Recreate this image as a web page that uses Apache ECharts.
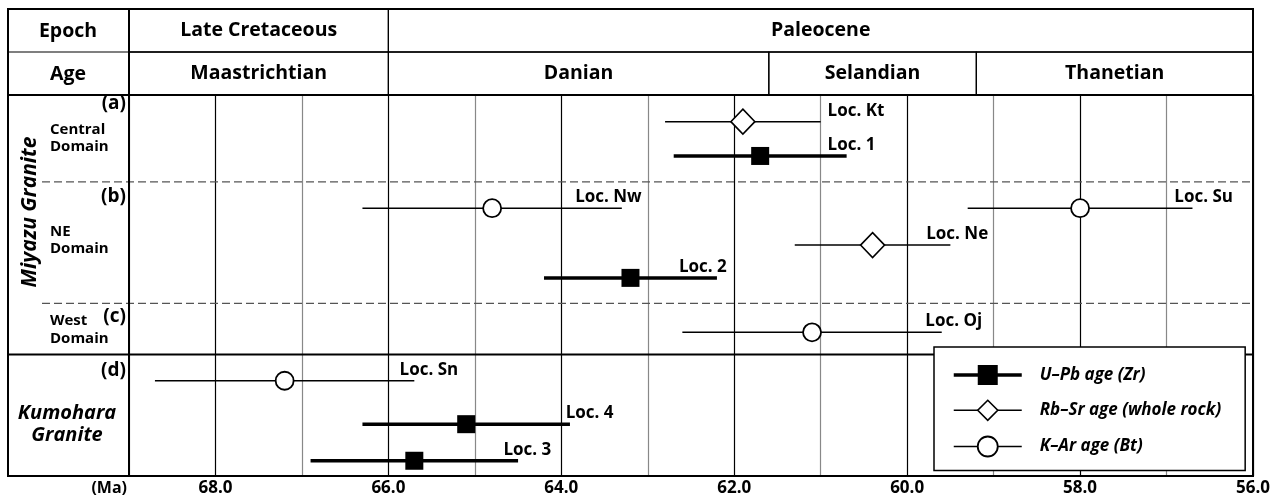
<!DOCTYPE html>
<html><head><meta charset="utf-8">
<script src="https://cdn.jsdelivr.net/npm/echarts@6/dist/echarts.min.js"></script>
<style>html,body{margin:0;padding:0;background:#fff}#c{width:1279px;height:499px}</style>
</head><body><div id="c"></div>
<script>
// ---- data ----
const epochNames = ['Late Cretaceous', 'Paleocene'];
const epochStart = [69, 66];
const epochEnd = [66, 56];
const stageNames = ['Maastrichtian', 'Danian', 'Selandian', 'Thanetian'];
const stageStart = [69, 66, 61.6, 59.2];
const stageEnd = [66, 61.6, 59.2, 56];

const methodNames = ['U–Pb age (Zr)', 'Rb–Sr age (whole rock)', 'K–Ar age (Bt)'];
const locNames = ['Loc. Kt', 'Loc. 1', 'Loc. Nw', 'Loc. Su', 'Loc. Ne', 'Loc. 2', 'Loc. Oj', 'Loc. Sn', 'Loc. 4', 'Loc. 3'];
const locMethod = [1, 0, 2, 2, 1, 0, 2, 2, 0, 0];
const locAge = [61.9, 61.7, 64.8, 58.0, 60.4, 63.2, 61.1, 67.2, 65.1, 65.7];
const locOld = [62.8, 62.7, 66.3, 59.3, 61.3, 64.2, 62.6, 68.7, 66.3, 66.9];
const locYoung = [61.0, 60.7, 63.3, 56.7, 59.5, 62.2, 59.6, 65.7, 63.9, 64.5];
const locLane = [0.70, 1.60, 2.97, 2.97, 3.94, 4.80, 6.23, 7.50, 8.64, 9.60];
const labelAt = [60.92, 60.92, 63.84, 56.91, 59.78, 62.64, 59.79, 65.87, 63.95, 64.67];
const laneBreaks = [2.28, 5.47, 6.81];
const breakDashed = [true, true, false];
const axisMin = 56, axisMax = 69, axisStep = 1;

// ---- styles ----
const FONT = '"Open Sans"';
const mStyle = [
  {symbol: 'rect', size: [18, 18], color: '#000', border: 0, bar: 3.5},
  {symbol: 'diamond', size: [24, 25], color: '#fff', border: 1.6, bar: 1.5},
  {symbol: 'circle', size: 18, color: '#fff', border: 1.8, bar: 1.5}
];

const chart = echarts.init(document.getElementById('c'), null, {renderer: 'canvas'});

const headerData = [];
epochNames.forEach((n, i) => headerData.push([epochStart[i], epochEnd[i], 0]));
stageNames.forEach((n, i) => headerData.push([stageStart[i], stageEnd[i], 1]));
const headerNames = epochNames.concat(stageNames);

const series = [];
// header cells
series.push({
  type: 'custom', xAxisIndex: 1, yAxisIndex: 1, silent: true, z: 1,
  data: headerData,
  renderItem: function (params, api) {
    const a = api.coord([api.value(0), api.value(2)]);
    const b = api.coord([api.value(1), api.value(2) + 1]);
    return {type: 'group', children: [
      {type: 'rect', shape: {x: a[0], y: a[1], width: b[0] - a[0], height: b[1] - a[1]},
       style: {fill: 'none', stroke: '#000', lineWidth: 1.2}},
      {type: 'text', style: {text: headerNames[params.dataIndex], x: (a[0] + b[0]) / 2, y: (a[1] + b[1]) / 2,
       align: 'center', verticalAlign: 'middle', font: 'bold 19.5px ' + FONT, fill: '#000'}}
    ]};
  }
});
// lane dividers
series.push({
  type: 'custom', silent: true, z: 1, clip: false,
  data: laneBreaks.map(v => [axisMax, v]),
  renderItem: function (params, api) {
    const p = api.coord([api.value(0), api.value(1)]);
    const right = params.coordSys.x + params.coordSys.width;
    const dashed = breakDashed[params.dataIndex];
    return {type: 'line', shape: {x1: dashed ? 42 : 8, y1: p[1], x2: right, y2: p[1]},
      style: dashed ? {stroke: '#555', lineWidth: 1.2, lineDash: [8, 4]} : {stroke: '#000', lineWidth: 2}};
  }
});
// error bars + markers per method
methodNames.forEach((name, m) => {
  const idx = locNames.map((_, i) => i).filter(i => locMethod[i] === m);
  series.push({
    type: 'custom', silent: true, z: 2,
    data: idx.map(i => [locOld[i], locYoung[i], locLane[i]]),
    encode: {x: [0, 1], y: 2},
    renderItem: function (params, api) {
      const a = api.coord([api.value(0), api.value(2)]);
      const b = api.coord([api.value(1), api.value(2)]);
      return {type: 'line', shape: {x1: a[0], y1: a[1], x2: b[0], y2: b[1]},
        style: {stroke: '#000', lineWidth: mStyle[m].bar}};
    }
  });
  series.push({
    type: 'line', name: name, z: 3, silent: true,
    data: idx.map(i => [locAge[i], locLane[i]]),
    symbol: mStyle[m].symbol, symbolSize: mStyle[m].size, showSymbol: true,
    lineStyle: {opacity: 0, width: 0},
    itemStyle: {color: mStyle[m].color, borderColor: '#000', borderWidth: mStyle[m].border, opacity: 1}
  });
});
// location labels
series.push({
  type: 'custom', silent: true, z: 3, clip: false,
  data: labelAt.map((v, i) => [v, locLane[i]]),
  renderItem: function (params, api) {
    const p = api.coord([api.value(0), api.value(1)]);
    return {type: 'text', style: {text: locNames[params.dataIndex], x: p[0], y: p[1] - 11,
      align: 'left', verticalAlign: 'middle', font: 'bold 17px ' + FONT, fill: '#000'}};
  }
});

const legendData = methodNames.map((n, m) => ({
  name: n,
  lineStyle: {color: '#000', width: mStyle[m].bar, opacity: 1, type: 'solid'},
  itemStyle: {color: mStyle[m].color, borderColor: '#000', borderWidth: mStyle[m].border, opacity: 1}
}));

const txt = (t, x, y, opts) => Object.assign({type: 'text', style: Object.assign({text: t, x: x, y: y,
  align: 'left', verticalAlign: 'middle', font: 'bold 15px ' + FONT, fill: '#000'}, opts || {})}, {z: 10});

chart.setOption({
  animation: false,
  backgroundColor: '#fff',
  grid: [
    {left: 129, right: 26, top: 95, bottom: 23},
    {left: 129, right: 26, top: 9, height: 86}
  ],
  xAxis: [
    {type: 'value', gridIndex: 0, min: axisMin, max: axisMax, interval: axisStep, inverse: true,
     axisLine: {show: false}, axisTick: {show: false},
     axisLabel: {formatter: v => (v % 2 === 0 ? v.toFixed(1) : ''), fontFamily: 'Open Sans', fontWeight: 'bold',
       fontSize: 17, color: '#000', margin: 4},
     splitLine: {show: true, lineStyle: {color: ['#000', '#888'], width: 1.2}}},
    {type: 'value', gridIndex: 1, min: axisMin, max: axisMax, inverse: true, show: false}
  ],
  yAxis: [
    {type: 'value', gridIndex: 0, min: 0, max: 10, inverse: true, show: false},
    {type: 'value', gridIndex: 1, min: 0, max: 2, inverse: true, show: false}
  ],
  legend: {
    orient: 'vertical', left: 934, top: 347, selectedMode: false,
    padding: [18, 24, 13, 18], itemGap: 14.5, itemWidth: 68, itemHeight: 25,
    backgroundColor: '#fff', borderColor: '#000', borderWidth: 1.5,
    textStyle: {fontFamily: 'Open Sans', fontStyle: 'italic', fontWeight: 'bold', fontSize: 17, color: '#000', padding: [0, 0, 0, 13]},
    data: legendData
  },
  graphic: [
    {type: 'rect', shape: {x: 8, y: 9, width: 1245, height: 467}, style: {fill: 'none', stroke: '#000', lineWidth: 2}, z: 10},
    {type: 'line', shape: {x1: 129, y1: 9, x2: 129, y2: 476}, style: {stroke: '#000', lineWidth: 2}, z: 10},
    {type: 'line', shape: {x1: 8, y1: 52, x2: 1253, y2: 52}, style: {stroke: '#000', lineWidth: 1.2}, z: 10},
    {type: 'line', shape: {x1: 8, y1: 95, x2: 1253, y2: 95}, style: {stroke: '#000', lineWidth: 2}, z: 10},
    txt('Epoch', 68, 31, {align: 'center', font: 'bold 19.5px ' + FONT}),
    txt('Age', 68, 74, {align: 'center', font: 'bold 19.5px ' + FONT}),
    txt('(a)', 126, 104, {align: 'right', font: 'bold 19px ' + FONT}),
    txt('Central', 50, 130),
    txt('Domain', 50, 147),
    txt('(b)', 126, 197, {align: 'right', font: 'bold 19px ' + FONT}),
    txt('NE', 50, 232),
    txt('Domain', 50, 249),
    txt('West', 50, 321),
    txt('(c)', 126, 317, {align: 'right', font: 'bold 19px ' + FONT}),
    txt('Domain', 50, 339),
    txt('(d)', 126, 371, {align: 'right', font: 'bold 19px ' + FONT}),
    txt('Kumohara', 67, 413, {align: 'center', font: 'italic bold 20px ' + FONT}),
    txt('Granite', 67, 435, {align: 'center', font: 'italic bold 20px ' + FONT}),
    {type: 'text', x: 30, y: 212, rotation: Math.PI / 2, z: 10,
     style: {text: 'Miyazu Granite', x: 0, y: 0, align: 'center', verticalAlign: 'middle', font: 'italic bold 21px ' + FONT, fill: '#000'}},
    txt('(Ma)', 127, 488, {align: 'right', font: 'bold 16px ' + FONT})
  ],
  series: series
});
</script></body></html>
